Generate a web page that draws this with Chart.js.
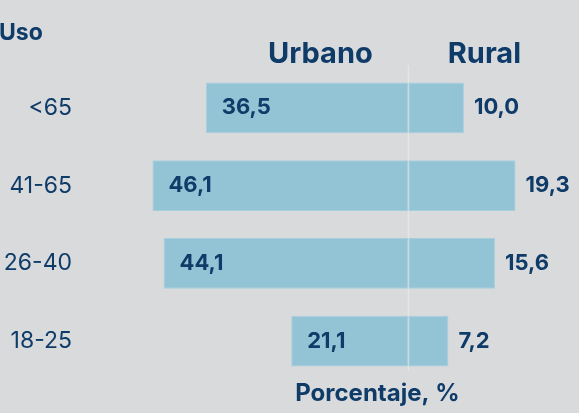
<!DOCTYPE html>
<html><head><meta charset="utf-8">
<script src="https://cdn.jsdelivr.net/npm/chart.js@4"></script>
<style>html,body{margin:0;padding:0;background:#d9dadc;}#wrap{width:579px;height:413px;position:relative;}</style>
</head><body><div id="wrap"><canvas id="c"></canvas></div>
<script>
const categories = ['<65', '41-65', '26-40', '18-25'];
const urbano = [36.5, 46.1, 44.1, 21.1];
const rural = [10.0, 19.3, 15.6, 7.2];
const seriesNames = ['Urbano', 'Rural'];
const axisTitleX = 'Porcentaje, %';
const axisTitleY = 'Uso';

const NAVY = '#0f3b68';
const BAR = '#92c4d6';
const fmt = v => v.toFixed(1).replace('.', ',');

const textPlugin = {
  id: 'texts',
  beforeDatasetsDraw(chart) {
    const {ctx, chartArea, scales} = chart;
    const x0 = scales.x.getPixelForValue(0);
    ctx.save();
    ctx.strokeStyle = '#e3e5e7';
    ctx.lineWidth = 1.5;
    ctx.beginPath();
    ctx.moveTo(x0, chartArea.top - 4);
    ctx.lineTo(x0, chartArea.bottom - 9);
    ctx.stroke();
    ctx.restore();
  },
  afterDatasetsDraw(chart) {
    const {ctx, scales} = chart;
    const x0 = scales.x.getPixelForValue(0);
    ctx.save();
    ctx.fillStyle = NAVY;
    ctx.textBaseline = 'middle';
    ctx.font = 'bold 22px Inter';
    ctx.textAlign = 'left';
    chart.getDatasetMeta(0).data.forEach((bar, i) => {
      ctx.fillText(fmt(urbano[i]), bar.x + 16, bar.y);
    });
    chart.getDatasetMeta(1).data.forEach((bar, i) => {
      ctx.fillText(fmt(rural[i]), bar.x + 10, bar.y);
    });
    ctx.font = 'bold 29px Inter';
    ctx.textAlign = 'center';
    ctx.fillText(seriesNames[0], x0 - 88, 54);
    ctx.fillText(seriesNames[1], x0 + 76, 54);
    ctx.font = 'bold 23px Inter';
    ctx.textAlign = 'left';
    ctx.fillText(axisTitleY, -1, 33);
    ctx.font = 'bold 24px Inter';
    ctx.textAlign = 'center';
    ctx.fillText(axisTitleX, x0 - 31, 394);
    ctx.restore();
  }
};

new Chart(document.getElementById('c'), {
  type: 'bar',
  data: {
    labels: categories,
    datasets: [
      {label: seriesNames[0], data: urbano.map(v => -v), backgroundColor: BAR, borderColor: '#a6cfdd', borderWidth: 1, borderSkipped: false, barPercentage: 0.655, categoryPercentage: 1},
      {label: seriesNames[1], data: rural, backgroundColor: BAR, borderColor: '#a6cfdd', borderWidth: 1, borderSkipped: false, barPercentage: 0.655, categoryPercentage: 1}
    ]
  },
  options: {
    indexAxis: 'y',
    responsive: true,
    maintainAspectRatio: false,
    animation: false,
    layout: {padding: {top: 69, bottom: 33, right: 4, left: 0}},
    plugins: {legend: {display: false}, tooltip: {enabled: false}, title: {display: false}},
    scales: {
      x: {stacked: true, min: -55, max: 30, display: false},
      y: {
        stacked: true,
        grid: {display: false, drawTicks: false},
        border: {display: false},
        ticks: {color: NAVY, font: {family: 'Inter', size: 23}, padding: 31},
        afterFit(scale) { scale.width = 103; scale.paddingTop = 0; scale.paddingBottom = 0; }
      }
    }
  },
  plugins: [textPlugin]
});
</script></body></html>
